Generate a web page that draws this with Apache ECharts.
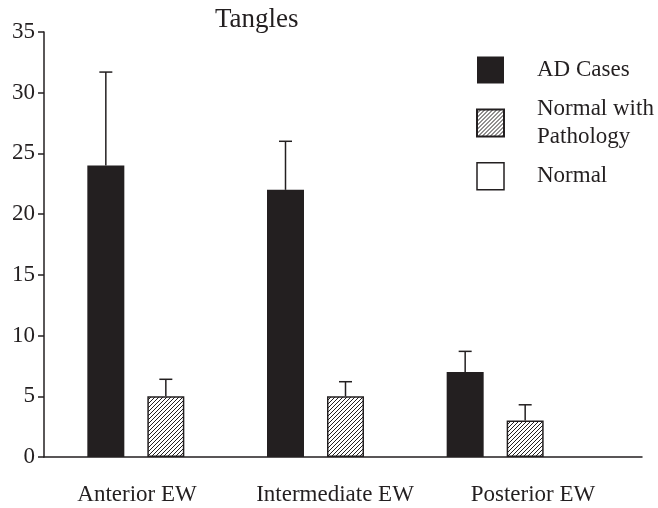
<!DOCTYPE html>
<html>
<head>
<meta charset="utf-8">
<script src="https://cdn.jsdelivr.net/npm/echarts@6/dist/echarts.min.js"></script>
<style>html,body{margin:0;padding:0;background:#fff}#c{width:658px;height:508px}</style>
</head>
<body>
<div id="c"></div>
<script>
// ---- data ----
var categories = ['Anterior EW', 'Intermediate EW', 'Posterior EW'];
var seriesNames = ['AD Cases', 'Normal with\nPathology', 'Normal'];
var adValues = [24, 22, 7];
var adErrTop = [31.7, 26, 8.7];
var pathValues = [5, 5, 3];
var pathErrTop = [6.4, 6.2, 4.3];
var normalValues = [0, 0, 0];
var yTicks = [0, 5, 10, 15, 20, 25, 30, 35];

// ---- style ----
var INK = '#231f20';
var FONT = 'Liberation Serif';
var BAR_W = 37, BAR_GAP = 23;

function hatch() {
  var s = 4, c = document.createElement('canvas');
  c.width = s; c.height = s;
  var g = c.getContext('2d');
  g.fillStyle = '#fff'; g.fillRect(0, 0, s, s);
  g.strokeStyle = INK; g.lineWidth = 1;
  g.beginPath();
  g.moveTo(0, s); g.lineTo(s, 0);
  g.moveTo(-1, 1); g.lineTo(1, -1);
  g.moveTo(s - 1, s + 1); g.lineTo(s + 1, s - 1);
  g.stroke();
  return c;
}

function errSeries(tops, vals, idxOffset) {
  return {
    type: 'custom', xAxisIndex: 0, yAxisIndex: 0, silent: true, z: 5,
    data: tops.map(function (t, i) { return [i, t, vals[i]]; }),
    renderItem: function (params, api) {
      var top = api.coord([api.value(0), api.value(1)]);
      var base = api.coord([api.value(0), api.value(2)]);
      var x = top[0] + idxOffset * (BAR_W + BAR_GAP);
      var cap = 6.5;
      return {
        type: 'group',
        children: [
          { type: 'line', shape: { x1: x, y1: base[1], x2: x, y2: top[1] }, style: { stroke: INK, lineWidth: 1.5 } },
          { type: 'line', shape: { x1: x - cap, y1: top[1], x2: x + cap, y2: top[1] }, style: { stroke: INK, lineWidth: 1.5 } }
        ]
      };
    }
  };
}

var chart = echarts.init(document.getElementById('c'), null, { renderer: 'canvas' });
var TOP = 32, BOTTOM = 51;
chart.setOption({
  animation: false,
  backgroundColor: '#fff',
  title: {
    text: 'Tangles', left: 210, top: 1,
    textStyle: { fontFamily: FONT, fontSize: 27, fontWeight: 'normal', color: INK }
  },
  legend: {
    orient: 'vertical', left: 471, top: 51,
    data: [
      { name: seriesNames[0] },
      { name: seriesNames[1] },
      { name: seriesNames[2], itemStyle: { color: '#fff', borderColor: INK, borderWidth: 1.5 } }
    ],
    icon: 'rect', itemWidth: 27, itemHeight: 27, itemGap: 11,
    textStyle: { fontFamily: FONT, fontSize: 23, color: INK, lineHeight: 28, padding: [0, 0, 0, 28] }
  },
  grid: [
    { left: 76, right: 43, top: TOP, bottom: BOTTOM },
    { left: 44, right: 16, top: TOP, bottom: BOTTOM },
    { left: 38, right: 26, top: TOP, bottom: BOTTOM }
  ],
  xAxis: [
    { type: 'category', gridIndex: 0, data: categories, show: false },
    { type: 'category', gridIndex: 1, data: categories,
      axisLine: { lineStyle: { color: INK, width: 1.5 } }, axisTick: { show: false }, axisLabel: { show: false } },
    { type: 'category', gridIndex: 2, data: categories,
      axisLine: { show: false }, axisTick: { show: false },
      axisLabel: { interval: 0, fontFamily: FONT, fontSize: 23, color: INK, margin: 26 } }
  ],
  yAxis: [
    { type: 'value', gridIndex: 0, min: 0, max: 35, interval: 5, show: false },
    { type: 'value', gridIndex: 1, min: yTicks[0], max: yTicks[yTicks.length - 1], interval: yTicks[1] - yTicks[0],
      axisLine: { show: true, lineStyle: { color: INK, width: 1.5 } },
      axisTick: { show: true, length: 6, lineStyle: { color: INK, width: 1.5 } },
      splitLine: { show: false },
      axisLabel: { fontFamily: FONT, fontSize: 23, color: INK, margin: 9 } },
    { type: 'value', gridIndex: 2, min: 0, max: 35, show: false }
  ],
  series: [
    { name: seriesNames[0], type: 'bar', xAxisIndex: 0, yAxisIndex: 0, data: adValues,
      barWidth: BAR_W, barGap: (BAR_GAP / BAR_W * 100) + '%',
      itemStyle: { color: INK } },
    { name: seriesNames[1], type: 'bar', xAxisIndex: 0, yAxisIndex: 0, data: pathValues,
      barWidth: BAR_W,
      itemStyle: { color: { image: hatch(), repeat: 'repeat' }, borderColor: INK, borderWidth: 1.5 } },
    { name: seriesNames[2], type: 'bar', xAxisIndex: 0, yAxisIndex: 0, data: normalValues,
      barWidth: BAR_W,
      itemStyle: { color: '#fff', borderColor: INK, borderWidth: 0 } },
    errSeries(adErrTop, adValues, -1),
    errSeries(pathErrTop, pathValues, 0)
  ]
});
</script>
</body>
</html>
